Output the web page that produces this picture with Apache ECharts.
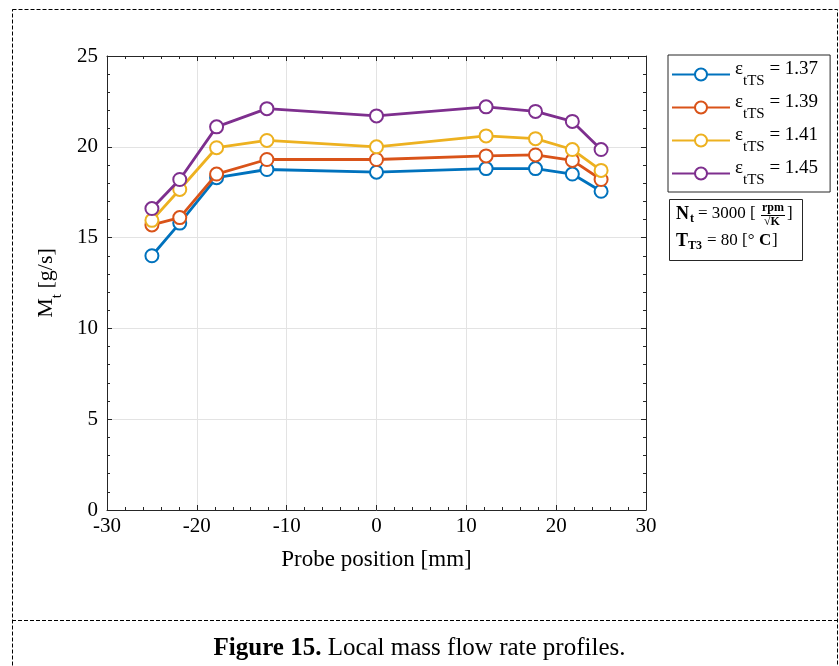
<!DOCTYPE html>
<html><head><meta charset="utf-8">
<script src="https://cdn.jsdelivr.net/npm/echarts@6/dist/echarts.min.js"></script>
<style>html,body{margin:0;padding:0;background:#fff}#c{width:839px;height:666px}</style>
</head><body><div id="c"></div>
<script>
var positions = [-25, -21.9, -17.8, -12.2, 0, 12.2, 17.7, 21.8, 25];
var eps137 = [14.0, 15.8, 18.3, 18.75, 18.6, 18.8, 18.8, 18.5, 17.55];
var eps139 = [15.7, 16.1, 18.5, 19.3, 19.3, 19.5, 19.55, 19.25, 18.2];
var eps141 = [15.95, 17.65, 19.95, 20.35, 20.0, 20.6, 20.45, 19.85, 18.7];
var eps145 = [16.6, 18.2, 21.1, 22.1, 21.7, 22.2, 21.95, 21.4, 19.85];
var seriesNames = ['1.37', '1.39', '1.41', '1.45'];
var seriesValues = [eps137, eps139, eps141, eps145];
var colors = ['#0072BD', '#D95319', '#EDB120', '#7E2F8E'];
var xTicks = [-30, -20, -10, 0, 10, 20, 30];
var yTicks = [0, 5, 10, 15, 20, 25];

var FONT = '"Liberation Serif", "DejaVu Serif", serif';
var chart = echarts.init(document.getElementById('c'));

function pairs(v){ return positions.map(function(x,i){ return [x, v[i]]; }); }

var series = seriesNames.map(function(n, i){
  return {
    name: n, type: 'line', data: pairs(seriesValues[i]),
    symbol: 'emptyCircle', symbolSize: 13,
    lineStyle: {color: colors[i], width: 2.8},
    itemStyle: {color: colors[i], borderColor: colors[i], borderWidth: 2.5},
    emphasis: {disabled: true}, z: 3 + i
  };
});

var AXC = '#262626';
function axisLine(){ return {show: true, onZero: false, lineStyle: {color: AXC, width: 1}}; }
function axisTick(){ return {show: true, inside: true, length: 5, lineStyle: {color: AXC}}; }
function minorTick(){ return {show: true, splitNumber: 5, length: 3, lineStyle: {color: AXC}}; }

var option = {
  animation: false,
  color: colors,
  grid: {left: 107, right: 193, top: 56, bottom: 156, show: false},
  legend: {
    orient: 'vertical', left: 668, top: 55,
    data: seriesNames,
    borderColor: AXC, borderWidth: 1, padding: [5, 12, 4, 3],
    itemWidth: 58, itemHeight: 15, itemGap: 4,
    formatter: function(n){ return '{e|ε}{s|tTS}{e| = ' + n + '}'; },
    textStyle: {
      fontFamily: FONT, color: '#000',
      rich: {
        e: {fontFamily: FONT, fontSize: 19, color: '#000', lineHeight: 29, verticalAlign: 'top'},
        s: {fontFamily: FONT, fontSize: 15, color: '#000', lineHeight: 29, verticalAlign: 'bottom'}
      }
    }
  },
  xAxis: [
    {
      type: 'value', min: -30, max: 30, interval: 10,
      axisLine: axisLine(), axisTick: axisTick(), minorTick: minorTick(),
      axisLabel: {fontFamily: FONT, fontSize: 21, color: '#000', margin: 6,
        formatter: function(v){ return xTicks.indexOf(v) >= 0 ? String(v) : ''; }},
      splitLine: {show: true, lineStyle: {color: '#e3e3e3', width: 1}},
      name: 'Probe position [mm]', nameLocation: 'middle', nameGap: 38,
      nameTextStyle: {fontFamily: FONT, fontSize: 23, color: '#000'}
    },
    {
      type: 'value', min: -30, max: 30, interval: 10, position: 'top',
      axisLine: axisLine(), axisTick: axisTick(), minorTick: minorTick(),
      axisLabel: {show: false}, splitLine: {show: false}
    }
  ],
  yAxis: [
    {
      type: 'value', min: 0, max: 25, interval: 5,
      axisLine: axisLine(), axisTick: axisTick(), minorTick: minorTick(),
      axisLabel: {fontFamily: FONT, fontSize: 21, color: '#000', margin: 9,
        formatter: function(v){ return yTicks.indexOf(v) >= 0 ? String(v) : ''; }},
      splitLine: {show: true, lineStyle: {color: '#e3e3e3', width: 1}},
      name: '{m|M}{s|t}{m| [g/s]}', nameLocation: 'middle', nameGap: 42, nameRotate: 90,
      nameTextStyle: {fontFamily: FONT, fontSize: 22, color: '#000',
        rich: {
          m: {fontFamily: FONT, fontSize: 22, color: '#000', lineHeight: 30, verticalAlign: 'top'},
          s: {fontFamily: FONT, fontSize: 15, color: '#000', lineHeight: 30, verticalAlign: 'bottom'}
        }}
    },
    {
      type: 'value', min: 0, max: 25, interval: 5, position: 'right',
      axisLine: axisLine(), axisTick: axisTick(), minorTick: minorTick(),
      axisLabel: {show: false}, splitLine: {show: false}
    }
  ],
  series: series,
  graphic: [
    {type: 'rect', shape: {x: 12.5, y: 9.5, width: 825, height: 700}, silent: true,
      style: {fill: 'none', stroke: '#000', lineWidth: 1, lineDash: [4, 2]}},
    {type: 'line', shape: {x1: 12, y1: 620.5, x2: 839, y2: 620.5}, silent: true,
      style: {stroke: '#000', lineWidth: 1, lineDash: [4, 2]}},
    {type: 'text', left: 'center', top: 636, silent: true,
      style: {text: '{b|Figure 15.}{n| Local mass flow rate profiles.}',
        rich: {
          b: {fontFamily: FONT, fontSize: 25, fontWeight: 'bold', fill: '#000'},
          n: {fontFamily: FONT, fontSize: 25, fill: '#000'}
        }}},
    {type: 'group', left: 669, top: 199, silent: true, children: [
      {type: 'rect', shape: {x: 0.5, y: 0.5, width: 133, height: 61},
        style: {fill: '#fff', stroke: AXC, lineWidth: 1}},
      {type: 'text', x: 7, y: 6, style: {text: 'N', font: 'bold 18px ' + FONT, fill: '#000'}},
      {type: 'text', x: 21, y: 14, style: {text: 't', font: 'bold 12px ' + FONT, fill: '#000'}},
      {type: 'text', x: 29, y: 6, style: {text: '= 3000 [', font: '17px ' + FONT, fill: '#000'}},
      {type: 'text', x: 93, y: 3, style: {text: 'rpm', font: 'bold 12px ' + FONT, fill: '#000'}},
      {type: 'line', shape: {x1: 92, y1: 16.5, x2: 116, y2: 16.5}, style: {stroke: '#000', lineWidth: 1}},
      {type: 'text', x: 95, y: 17, style: {text: '√K', font: 'bold 12px ' + FONT, fill: '#000'}},
      {type: 'text', x: 118, y: 6, style: {text: ']', font: '17px ' + FONT, fill: '#000'}},
      {type: 'text', x: 7, y: 33, style: {text: 'T', font: 'bold 18px ' + FONT, fill: '#000'}},
      {type: 'text', x: 19, y: 41, style: {text: 'T3', font: 'bold 12px ' + FONT, fill: '#000'}},
      {type: 'text', x: 38, y: 33, style: {text: '= 80 [°', font: '17px ' + FONT, fill: '#000'}},
      {type: 'text', x: 90, y: 33, style: {text: 'C', font: 'bold 17px ' + FONT, fill: '#000'}},
      {type: 'text', x: 103, y: 33, style: {text: ']', font: '17px ' + FONT, fill: '#000'}}
    ]}
  ]
};
chart.setOption(option);
</script></body></html>
